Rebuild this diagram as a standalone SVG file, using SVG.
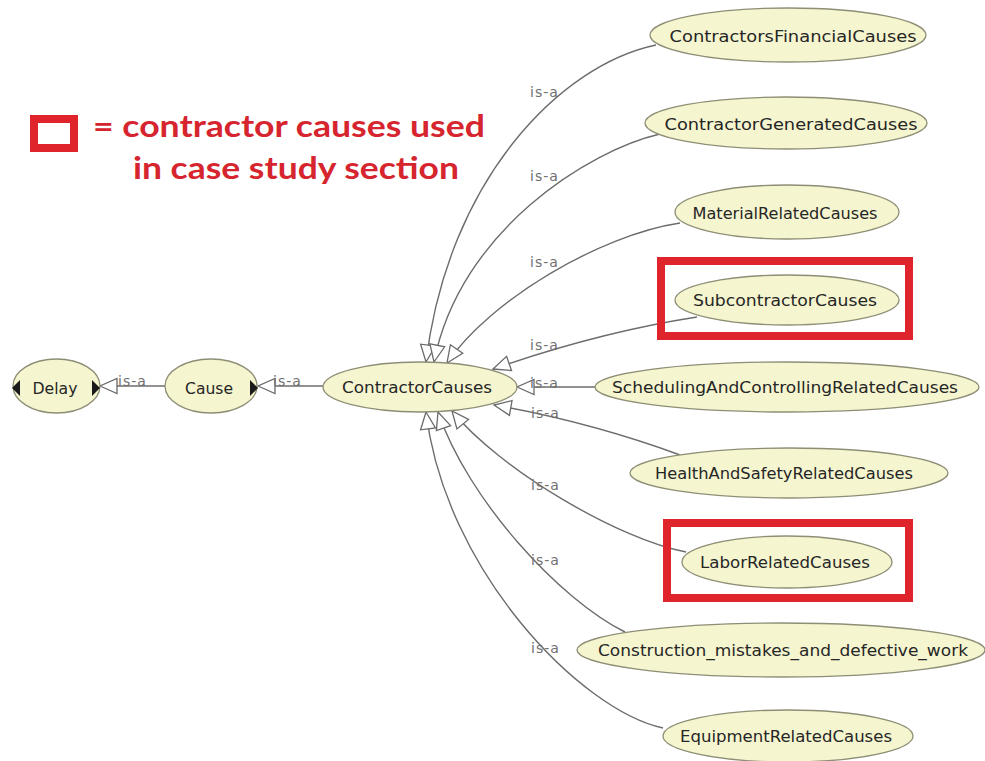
<svg xmlns="http://www.w3.org/2000/svg" width="985" height="761" viewBox="0 0 985 761">
  <style>
    .node ellipse { fill: #f5f5cf; stroke: #8e8e76; stroke-width: 1.3; }
    .node text { font-family: "DejaVu Sans", "Noto Sans", sans-serif; font-size: 16.5px; fill: #262626; text-anchor: middle; }
    .edge { fill: none; stroke: #6c6c6c; stroke-width: 1.4; }
    .lbl { font-family: "DejaVu Sans", "Noto Sans", sans-serif; font-size: 14px; fill: #707070; letter-spacing: 1px; }
    .tog { fill: #1a1a1a; }
    .hl { fill: none; stroke: #e0242c; stroke-width: 8; }
    .legend { font-family: Lato, "Open Sans", sans-serif; font-weight: bold; font-size: 30px; fill: #d6252e; }
  </style>
  <defs>
    <!-- hollow is-a arrowhead -->
    <marker id="isa" viewBox="-19 -9 21 18" refX="0" refY="0" markerWidth="21" markerHeight="18" markerUnits="userSpaceOnUse" orient="auto">
      <path d="M0,0 L-17,-7.5 L-17,7.5 Z" fill="#ffffff" stroke="#6a6a6a" stroke-width="1.3" stroke-linejoin="miter"/>
    </marker>
  </defs>
  <rect width="985" height="761" fill="#ffffff"/>

  <!-- legend -->
  <g id="legend">
    <rect class="hl" x="34" y="119" width="40" height="29"/>
    <text class="legend" x="93" y="137" textLength="392" lengthAdjust="spacingAndGlyphs">= contractor causes used</text>
    <text class="legend" x="133" y="179" textLength="326" lengthAdjust="spacingAndGlyphs">in case study section</text>
  </g>

  <!-- connectors -->
  <g id="connectors">
    <path class="edge" d="M165,386 L100,386" marker-end="url(#isa)"/>
    <path class="edge" d="M323,386 L258,386" marker-end="url(#isa)"/>
    <path class="edge" d="M656,45 C560,65 448,180 426,362" marker-end="url(#isa)"/>
    <path class="edge" d="M660,134 C590,150 460,230 434,362" marker-end="url(#isa)"/>
    <path class="edge" d="M680,223 C600,235 490,300 447,363" marker-end="url(#isa)"/>
    <path class="edge" d="M697,317 Q600,332 493,369" marker-end="url(#isa)"/>
    <path class="edge" d="M595,387 L517,387" marker-end="url(#isa)"/>
    <path class="edge" d="M680,455 Q590,422 494,405" marker-end="url(#isa)"/>
    <path class="edge" d="M686,552 C620,540 500,470 452,411" marker-end="url(#isa)"/>
    <path class="edge" d="M625,632 C560,600 468,500 438,412" marker-end="url(#isa)"/>
    <path class="edge" d="M663,728 C580,710 445,570 426,412" marker-end="url(#isa)"/>

    <text class="lbl" x="118" y="386">is-a</text>
    <text class="lbl" x="273" y="386">is-a</text>
    <text class="lbl" x="530" y="97">is-a</text>
    <text class="lbl" x="530" y="181">is-a</text>
    <text class="lbl" x="530" y="267">is-a</text>
    <text class="lbl" x="530" y="350">is-a</text>
    <text class="lbl" x="530" y="388">is-a</text>
    <text class="lbl" x="531" y="418">is-a</text>
    <text class="lbl" x="531" y="490">is-a</text>
    <text class="lbl" x="531" y="565">is-a</text>
    <text class="lbl" x="531" y="653">is-a</text>
  </g>

  <!-- nodes -->
  <g id="n-delay" class="node">
    <ellipse cx="56.5" cy="386" rx="43.5" ry="27"/>
    <text x="55" y="394" textLength="45" lengthAdjust="spacingAndGlyphs">Delay</text>
    <polygon class="tog" points="12,388 20,380 20,396"/>
    <polygon class="tog" points="100,388 92,380 92,396"/>
  </g>
  <g id="n-cause" class="node">
    <ellipse cx="211" cy="386" rx="46" ry="27"/>
    <text x="209" y="394" textLength="48" lengthAdjust="spacingAndGlyphs">Cause</text>
    <polygon class="tog" points="258,388 250,380 250,396"/>
  </g>
  <g id="n-contractor-causes" class="node">
    <ellipse cx="420" cy="387" rx="97" ry="25"/>
    <text x="417" y="393" textLength="150" lengthAdjust="spacingAndGlyphs">ContractorCauses</text>
  </g>
  <g id="n-financial" class="node">
    <ellipse cx="788" cy="35" rx="138" ry="27"/>
    <text x="793" y="42" textLength="247" lengthAdjust="spacingAndGlyphs">ContractorsFinancialCauses</text>
  </g>
  <g id="n-generated" class="node">
    <ellipse cx="786" cy="123" rx="141" ry="26"/>
    <text x="791" y="130" textLength="253" lengthAdjust="spacingAndGlyphs">ContractorGeneratedCauses</text>
  </g>
  <g id="n-material" class="node">
    <ellipse cx="787" cy="212" rx="112" ry="27"/>
    <text x="785" y="219" textLength="185" lengthAdjust="spacingAndGlyphs">MaterialRelatedCauses</text>
  </g>
  <g id="n-subcontractor" class="node">
    <rect class="hl" x="661" y="261" width="248" height="75"/>
    <ellipse cx="787" cy="300" rx="112" ry="25"/>
    <text x="785" y="306" textLength="184" lengthAdjust="spacingAndGlyphs">SubcontractorCauses</text>
  </g>
  <g id="n-scheduling" class="node">
    <ellipse cx="787" cy="387" rx="192" ry="25"/>
    <text x="785" y="393" textLength="346" lengthAdjust="spacingAndGlyphs">SchedulingAndControllingRelatedCauses</text>
  </g>
  <g id="n-health" class="node">
    <ellipse cx="789" cy="473" rx="159" ry="25"/>
    <text x="784" y="479" textLength="258" lengthAdjust="spacingAndGlyphs">HealthAndSafetyRelatedCauses</text>
  </g>
  <g id="n-labor" class="node">
    <rect class="hl" x="667" y="523" width="242" height="75"/>
    <ellipse cx="787" cy="562" rx="105" ry="26"/>
    <text x="785" y="568" textLength="170" lengthAdjust="spacingAndGlyphs">LaborRelatedCauses</text>
  </g>
  <g id="n-construction" class="node">
    <ellipse cx="781" cy="650" rx="204" ry="27"/>
    <text x="783" y="656" textLength="370" lengthAdjust="spacingAndGlyphs">Construction_mistakes_and_defective_work</text>
  </g>
  <g id="n-equipment" class="node">
    <ellipse cx="788" cy="736" rx="125" ry="26"/>
    <text x="786" y="742" textLength="212" lengthAdjust="spacingAndGlyphs">EquipmentRelatedCauses</text>
  </g>
</svg>
